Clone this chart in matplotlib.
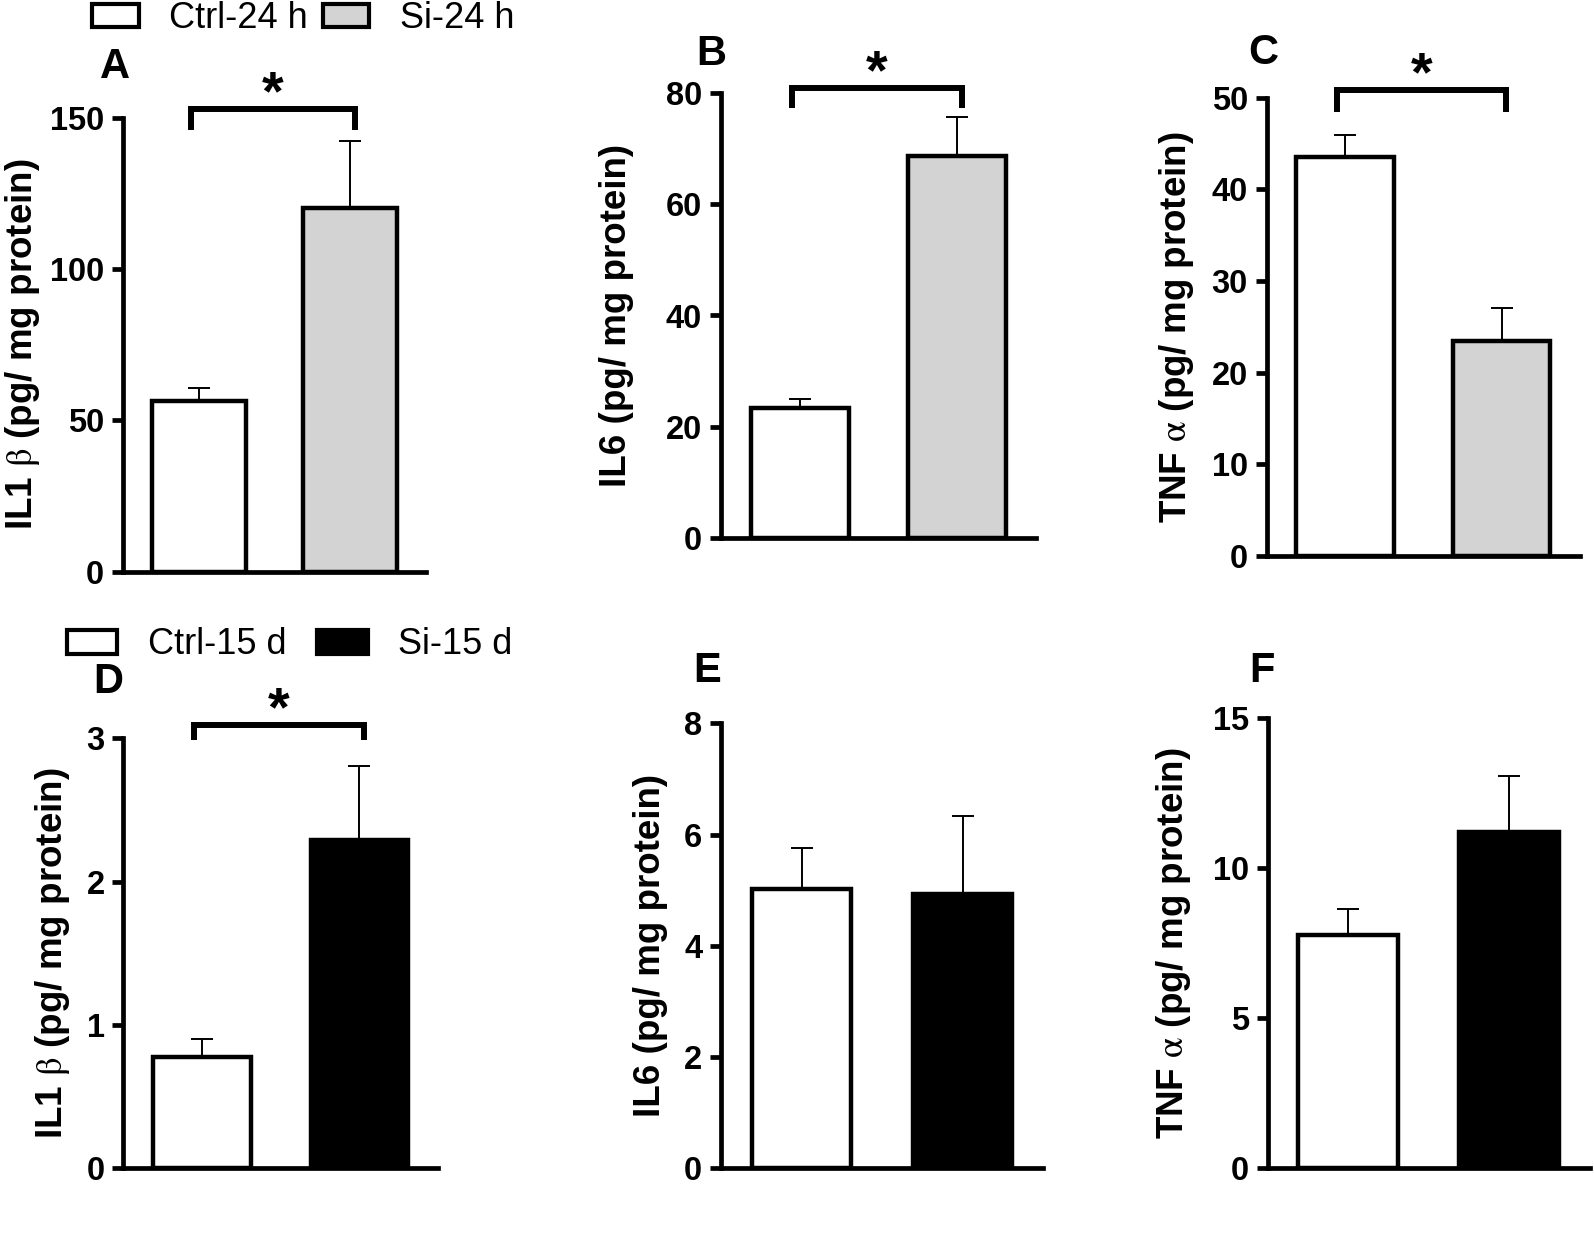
import numpy as np
import matplotlib
matplotlib.use('Agg')
import matplotlib.pyplot as plt
from matplotlib.patches import Patch

plt.rcParams['font.family'] = ['Liberation Sans', 'DejaVu Sans']
plt.rcParams['mathtext.fontset'] = 'stix'

# groups
groups_24h = ['Ctrl-24 h', 'Si-24 h']
groups_15d = ['Ctrl-15 d', 'Si-15 d']

# means and SEM
il1b_24h = [56.4, 120.2]
il1b_24h_err = [4.2, 22.1]
il6_24h = [23.4, 68.7]
il6_24h_err = [1.6, 7.0]
tnf_24h = [43.5, 23.5]
tnf_24h_err = [2.4, 3.6]

il1b_15d = [0.78, 2.29]
il1b_15d_err = [0.12, 0.52]
il6_15d = [5.02, 4.93]
il6_15d_err = [0.73, 1.41]
tnf_15d = [7.78, 11.2]
tnf_15d_err = [0.85, 1.89]

# axis ticks
ticks_il1b_24h = [0, 50, 100, 150]
ticks_il6_24h = [0, 20, 40, 60, 80]
ticks_tnf_24h = [0, 10, 20, 30, 40, 50]
ticks_il1b_15d = [0, 1, 2, 3]
ticks_il6_15d = [0, 2, 4, 6, 8]
ticks_tnf_15d = [0, 5, 10, 15]

# significance brackets (top, bottom) or None
sig_il1b_24h = (152.9, 146.0)
sig_il6_24h = (80.8, 77.2)
sig_tnf_24h = (50.8, 48.4)
sig_il1b_15d = (3.09, 2.99)

ylab_il1b = r'IL1 $\mathrm{\beta}$ (pg/ mg protein)'
ylab_il6 = 'IL6 (pg/ mg protein)'
ylab_tnf = r'TNF $\mathrm{\alpha}$ (pg/ mg protein)'

GRAY = '#d3d3d3'
W, H = 1594, 1234


def px_rect(x0, y_top, x1, y_bot):
    return [x0 / W, 1 - y_bot / H, (x1 - x0) / W, (y_bot - y_top) / H]


panels = [
    ('A', il1b_24h, il1b_24h_err, ticks_il1b_24h, sig_il1b_24h, ylab_il1b, ['white', GRAY],
     px_rect(123, 117.7, 426, 571.7), 100, (115, 67)),
    ('B', il6_24h, il6_24h_err, ticks_il6_24h, sig_il6_24h, ylab_il6, ['white', GRAY],
     px_rect(721, 92.7, 1036, 538.3), 105, (711, 54)),
    ('C', tnf_24h, tnf_24h_err, ticks_tnf_24h, sig_tnf_24h, ylab_tnf, ['white', GRAY],
     px_rect(1266.7, 97.7, 1580, 556), 90, (1263, 53)),
    ('D', il1b_15d, il1b_15d_err, ticks_il1b_15d, sig_il1b_15d, ylab_il1b, ['white', 'black'],
     px_rect(123.3, 738.3, 438, 1168.3), 71, (108, 682)),
    ('E', il6_15d, il6_15d_err, ticks_il6_15d, None, ylab_il6, ['white', 'black'],
     px_rect(721, 723.3, 1043, 1168.3), 70, (707, 671)),
    ('F', tnf_15d, tnf_15d_err, ticks_tnf_15d, None, ylab_tnf, ['white', 'black'],
     px_rect(1267.7, 718.3, 1590, 1168.3), 94, (1262, 671)),
]

fig = plt.figure(figsize=(W / 100, H / 100), dpi=100)

for letter, vals, errs, ticks, sig, ylab, colors, rect, lab_off, let_pos in panels:
    ax = fig.add_axes(rect)
    x = np.arange(len(vals))
    ax.errorbar(x, vals, yerr=[np.zeros(len(vals)), errs], fmt='none', ecolor='black',
                elinewidth=1.4, capsize=8, capthick=1.4, zorder=1)
    ax.bar(x, vals, width=0.62, color=colors, edgecolor='black', linewidth=3.2, zorder=2)

    ax.set_xlim(-0.5, 1.5)
    ax.set_ylim(ticks[0], ticks[-1])
    ax.set_yticks(ticks)
    ax.set_xticks([])
    for s in ['top', 'right']:
        ax.spines[s].set_visible(False)
    for s in ['left', 'bottom']:
        ax.spines[s].set_linewidth(3.4)
        ax.spines[s].set_capstyle('projecting')
    ax.tick_params(axis='y', direction='out', length=8, width=3.4, pad=5.5, labelsize=23.5)
    for t in ax.get_yticklabels():
        t.set_fontweight('bold')

    ax.set_ylabel(ylab, fontsize=26.5, fontweight='bold', va='center')
    ax_w = rect[2] * W
    ax.yaxis.set_label_coords(-lab_off / ax_w, 0.5)

    if sig is not None:
        top, bot = sig
        x0, x1 = -0.05, 1.03
        ax.plot([x0, x0, x1, x1], [bot, top, top, bot], color='black', lw=4.3,
                clip_on=False, solid_capstyle='butt', solid_joinstyle='miter')
        ax.text((x0 + x1) / 2, top, '*', ha='center', va='baseline', fontsize=40,
                fontweight='bold', clip_on=False)

    fig.text(let_pos[0] / W, 1 - let_pos[1] / H, letter, ha='center', va='center',
             fontsize=30, fontweight='bold')

h24 = [Patch(facecolor='white', edgecolor='black', linewidth=3),
       Patch(facecolor=GRAY, edgecolor='black', linewidth=3)]
fig.legend(h24, groups_24h, loc='center left', bbox_to_anchor=(91.7 / W, 1 - 19 / H),
           ncol=2, frameon=False, fontsize=26, borderpad=0, borderaxespad=0,
           handlelength=1.3, handleheight=0.62, handletextpad=0.85, columnspacing=0.4)

h15 = [Patch(facecolor='white', edgecolor='black', linewidth=3),
       Patch(facecolor='black', edgecolor='black', linewidth=3)]
fig.legend(h15, groups_15d, loc='center left', bbox_to_anchor=(66.7 / W, 1 - 645 / H),
           ncol=2, frameon=False, fontsize=26, borderpad=0, borderaxespad=0,
           handlelength=1.4, handleheight=0.64, handletextpad=0.85, columnspacing=0.85)

fig.savefig('out.png', dpi=100)
